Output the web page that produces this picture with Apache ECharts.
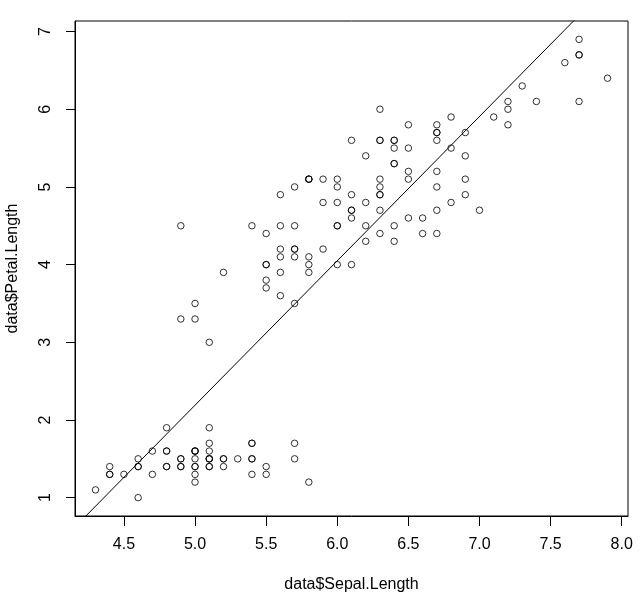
<!DOCTYPE html>
<html>
<head>
<meta charset="utf-8">
<script src="https://cdn.jsdelivr.net/npm/echarts@6/dist/echarts.min.js"></script>
<style>html,body{margin:0;padding:0;background:#fff}#c{width:643px;height:601px}</style>
</head>
<body>
<div id="c"></div>
<script>
const sepalLength = [5.1,4.9,4.7,4.6,5.0,5.4,4.6,5.0,4.4,4.9,5.4,4.8,4.8,4.3,5.8,5.7,5.4,5.1,5.7,5.1,5.4,5.1,4.6,5.1,4.8,5.0,5.0,5.2,5.2,4.7,4.8,5.4,5.2,5.5,4.9,5.0,5.5,4.9,4.4,5.1,5.0,4.5,4.4,5.0,5.1,4.8,5.1,4.6,5.3,5.0,
7.0,6.4,6.9,5.5,6.5,5.7,6.3,4.9,6.6,5.2,5.0,5.9,6.0,6.1,5.6,6.7,5.6,5.8,6.2,5.6,5.9,6.1,6.3,6.1,6.4,6.6,6.8,6.7,6.0,5.7,5.5,5.5,5.8,6.0,5.4,6.0,6.7,6.3,5.6,5.5,5.5,6.1,5.8,5.0,5.6,5.7,5.7,6.2,5.1,5.7,
6.3,5.8,7.1,6.3,6.5,7.6,4.9,7.3,6.7,7.2,6.5,6.4,6.8,5.7,5.8,6.4,6.5,7.7,7.7,6.0,6.9,5.6,7.7,6.3,6.7,7.2,6.2,6.1,6.4,7.2,7.4,7.9,6.4,6.3,6.1,7.7,6.3,6.4,6.0,6.9,6.7,6.9,5.8,6.8,6.7,6.7,6.3,6.5,6.2,5.9];
const petalLength = [1.4,1.4,1.3,1.5,1.4,1.7,1.4,1.5,1.4,1.5,1.5,1.6,1.4,1.1,1.2,1.5,1.3,1.4,1.7,1.5,1.7,1.5,1.0,1.7,1.9,1.6,1.6,1.5,1.4,1.6,1.6,1.5,1.5,1.4,1.5,1.2,1.3,1.4,1.3,1.5,1.3,1.3,1.3,1.6,1.9,1.4,1.6,1.4,1.5,1.4,
4.7,4.5,4.9,4.0,4.6,4.5,4.7,3.3,4.6,3.9,3.5,4.2,4.0,4.7,3.6,4.4,4.5,4.1,4.5,3.9,4.8,4.0,4.9,4.7,4.3,4.4,4.8,5.0,4.5,3.5,3.8,3.7,3.9,5.1,4.5,4.5,4.7,4.4,4.1,4.0,4.4,4.6,4.0,3.3,4.2,4.2,4.2,4.3,3.0,4.1,
6.0,5.1,5.9,5.6,5.8,6.6,4.5,6.3,5.8,6.1,5.1,5.3,5.5,5.0,5.1,5.3,5.5,6.7,6.9,5.0,5.7,4.9,6.7,4.9,5.7,6.0,4.8,4.9,5.6,5.8,6.1,6.4,5.6,5.1,5.6,6.1,5.6,5.5,4.8,5.4,5.6,5.1,5.1,5.9,5.7,5.2,5.0,5.2,5.4,5.1];
const xTicks = [4.5,5.0,5.5,6.0,6.5,7.0,7.5,8.0];
const yTicks = [1,2,3,4,5,6,7];
const xTitle = 'data$Sepal.Length';
const yTitle = 'data$Petal.Length';

// least squares fit (abline(lm(y ~ x)))
const n = sepalLength.length;
const mx = sepalLength.reduce((a,b)=>a+b,0)/n;
const my = petalLength.reduce((a,b)=>a+b,0)/n;
let sxy=0, sxx=0;
for (let i=0;i<n;i++){ sxy+=(sepalLength[i]-mx)*(petalLength[i]-my); sxx+=(sepalLength[i]-mx)**2; }
const slope = sxy/sxx, intercept = my - slope*mx;

function ext(arr){ const lo=Math.min(...arr), hi=Math.max(...arr), d=(hi-lo)*0.04; return [lo-d, hi+d]; }
const [xmin,xmax] = ext(sepalLength);
const [ymin,ymax] = ext(petalLength);

const pts = sepalLength.map((x,i)=>[x, petalLength[i]]);
const fitLine = [[xmin, intercept+slope*xmin],[xmax, intercept+slope*xmax]];

const font = 'Liberation Sans, Arial, sans-serif';
const chart = echarts.init(document.getElementById('c'), null, {renderer:'canvas'});
chart.setOption({
  animation:false,
  backgroundColor:'#fff',
  grid:{left:75,right:15,top:21,bottom:85,containLabel:false,outerBoundsMode:'none',
    show:true,borderColor:'#000',borderWidth:1,backgroundColor:'transparent'},
  xAxis:{type:'value',min:xmin,max:xmax,
    name:xTitle,nameLocation:'middle',nameGap:61,
    nameTextStyle:{fontFamily:font,fontSize:16,color:'#000'},
    axisLine:{show:true,onZero:false,lineStyle:{color:'#000',width:1}},
    axisTick:{show:true,length:10,customValues:xTicks,lineStyle:{color:'#000'}},
    axisLabel:{customValues:xTicks,margin:21,fontFamily:font,fontSize:16,color:'#000',formatter:v=>v.toFixed(1)},
    splitLine:{show:false}},
  yAxis:{type:'value',min:ymin,max:ymax,
    name:yTitle,nameLocation:'middle',nameGap:54,
    nameTextStyle:{fontFamily:font,fontSize:16,color:'#000'},
    axisLine:{show:true,onZero:false,lineStyle:{color:'#000',width:1}},
    axisTick:{show:true,length:9,customValues:yTicks,lineStyle:{color:'#000'}},
    axisLabel:{customValues:yTicks,margin:21,rotate:90,fontFamily:font,fontSize:16,color:'#000',formatter:v=>String(Math.round(v))},
    splitLine:{show:false}},
  series:[
    {type:'scatter',data:pts,symbol:'circle',symbolSize:6.5,
     itemStyle:{color:'rgba(0,0,0,0)',borderColor:'#000',borderWidth:1},silent:true},
    {type:'line',data:fitLine,showSymbol:false,clip:true,silent:true,
     lineStyle:{color:'#000',width:1}}
  ]
});
</script>
</body>
</html>
